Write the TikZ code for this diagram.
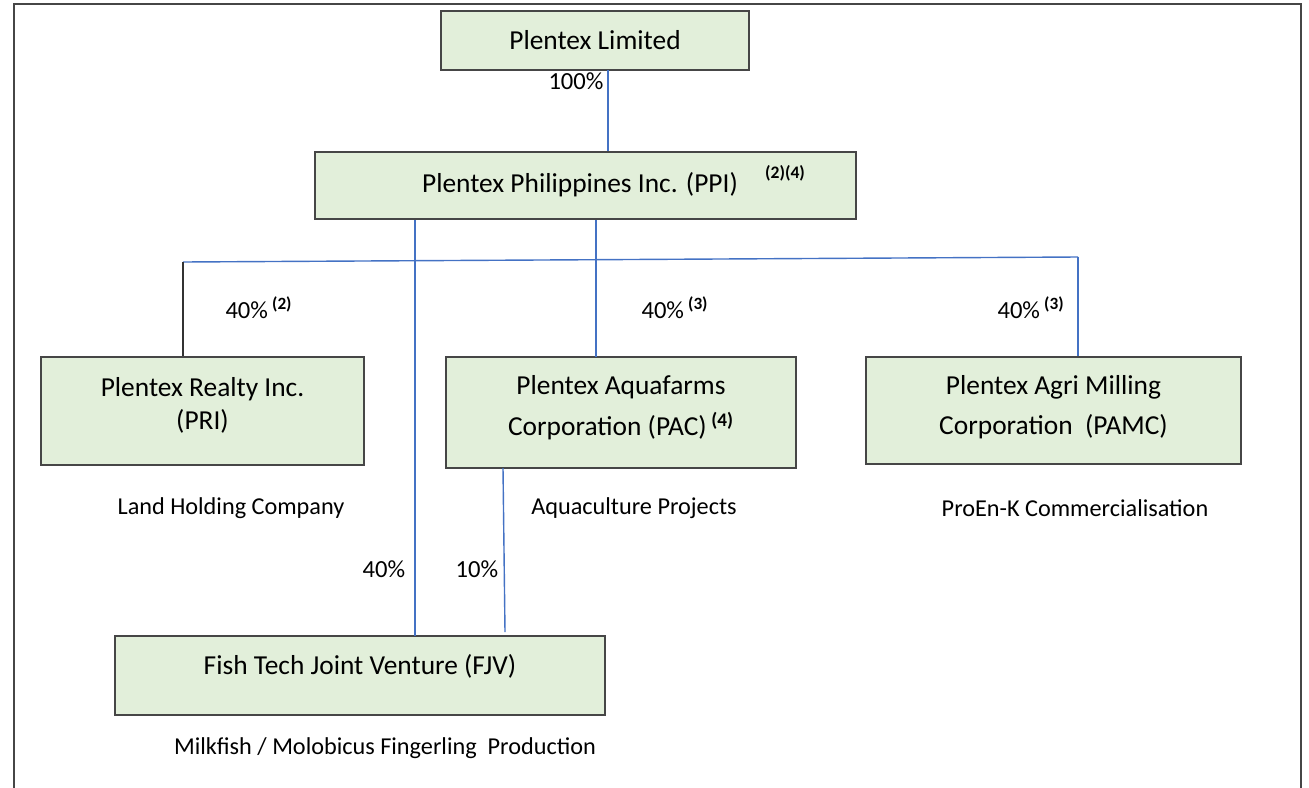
\documentclass[tikz,border=0pt]{standalone}
\usepackage{fontspec}
\setmainfont{Carlito}
\usetikzlibrary{positioning}
\definecolor{boxgreen}{RGB}{226,239,218}
\definecolor{linkblue}{RGB}{68,114,196}
\definecolor{framegray}{RGB}{70,70,70}

\begin{document}
\begin{tikzpicture}[
        x=0.02cm, y=-0.02cm,
        company/.style={rectangle, draw=framegray, line width=1.1pt, fill=boxgreen, inner sep=0pt, align=center, font=\fontsize{15.6}{18.7}\selectfont},
        boxtext/.style={inner sep=0pt, font=\fontsize{15.6}{18.7}\selectfont},
        note/.style={inner sep=0pt, font=\fontsize{10}{12}\selectfont\bfseries},
        pct/.style={inner sep=0pt, font=\fontsize{14}{17}\selectfont},
        desc/.style={inner sep=0pt, font=\fontsize{13.8}{17}\selectfont},
        link/.style={linkblue, line width=0.8pt},
        stem/.style={black!80, line width=0.8pt}
    ]
        \useasboundingbox (0,0) rectangle (1309,788);
        % outer frame, open at the bottom
        \draw[framegray, line width=1.1pt] (14,788) -- (14,4) -- (1301,4) -- (1301,788);

        % Parent companies
        \node[company, minimum width=6.16cm, minimum height=1.18cm] (limited) at (595,40.5) {Plentex Limited};
        \node[company, minimum width=10.82cm, minimum height=1.34cm] (ppi) at (585.5,185.5) {};
        \node[boxtext] (ppitext) at (580,185) {Plentex Philippines Inc. (PPI)};
        \node[note] (ppinote) at (785,173) {(2)(4)};

        % Subsidiaries
        \node[company, minimum width=6.46cm, minimum height=2.16cm, text depth=9pt] (pri) at (202.5,411) {Plentex Realty Inc.\\(PRI)};
        \node[company, minimum width=7.0cm, minimum height=2.22cm, text depth=8pt] (pac) at (621,412.5) {Plentex Aquafarms\\[5pt]Corporation (PAC)\,\textsuperscript{\textbf{(4)}}};
        \node[company, minimum width=7.5cm, minimum height=2.14cm, text depth=6.5pt] (pamc) at (1053.5,410.5) {Plentex Agri Milling\\[4pt]Corporation~~(PAMC)};

        % Joint venture
        \node[company, minimum width=9.8cm, minimum height=1.58cm, text depth=12.5pt] (fjv) at (360,675.5) {Fish Tech Joint Venture (FJV)};

        % Activities
        \node[desc] (pridesc) at (231,508) {Land Holding Company};
        \node[desc] (pacdesc) at (634,508) {Aquaculture Projects};
        \node[desc] (pamcdesc) at (1075,508) {ProEn-K Commercialisation};
        \node[desc] (fjvdesc) at (385,748) {Milkfish / Molobicus Fingerling~~Production};

        % Connection points
        \coordinate (limB) at (608,70);
        \coordinate (busL) at (183,262);
        \coordinate (busR) at (1078,257);
        \coordinate (pacT) at (596,357);
        \coordinate (fjvA) at (415,636);
        \coordinate (fjvB) at (505,632);
        \coordinate (pacB) at (503,468);

        % Connections
        \draw[link] (limB) -- (ppi.north -| limB);
        \draw[link] (busL) -- (busR);
        \draw[stem] (busL) -- (pri.north -| busL);
        \draw[link] (ppi.south -| pacT) -- (pacT);
        \draw[link] (busR) -- (pamc.north -| busR);
        \draw[link] (ppi.south -| fjvA) -- (fjvA);
        \draw[link] (pacB) -- (fjvB);

        % Holdings
        \node[pct] (p100) at (576,81) {100\%};
        \node[pct] (ppri) at (259,308) {40\%\,\textsuperscript{\textbf{(2)}}};
        \node[pct] (ppac) at (675,308) {40\%\,\textsuperscript{\textbf{(3)}}};
        \node[pct] (ppamc) at (1031,308) {40\%\,\textsuperscript{\textbf{(3)}}};
        \node[pct] (pfjva) at (384,569) {40\%};
        \node[pct] (pfjvb) at (477,569) {10\%};
    \end{tikzpicture}
\end{document}
